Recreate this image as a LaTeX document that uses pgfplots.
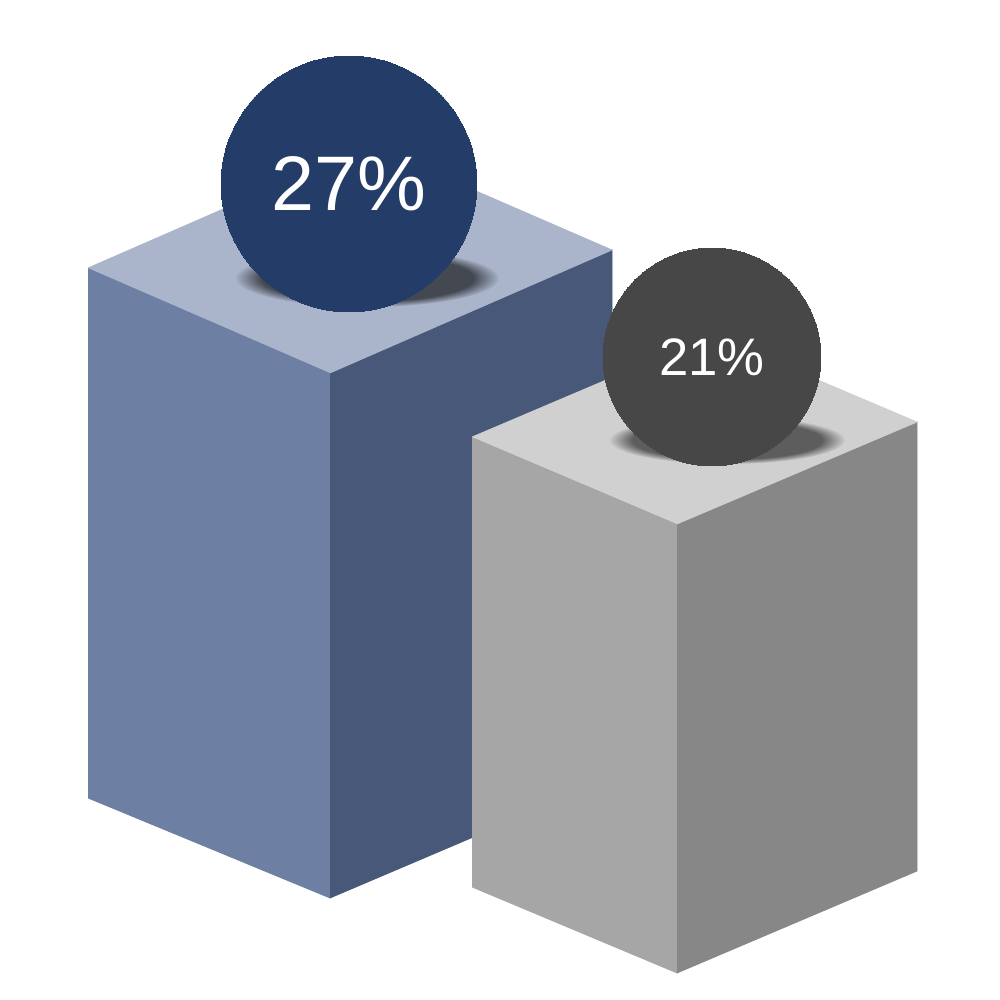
\documentclass[border=0pt]{standalone}
\usepackage{pgfplots}
\pgfplotsset{compat=1.18}
\usepackage{fontspec}
\setmainfont{Liberation Sans}
\usetikzlibrary{fadings}

\definecolor{blueFront}{HTML}{6D7FA3}
\definecolor{blueSide}{HTML}{485878}
\definecolor{blueTop}{HTML}{AAB5CB}
\definecolor{blueBall}{HTML}{233D68}
\definecolor{grayFront}{HTML}{A6A6A6}
\definecolor{graySide}{HTML}{878787}
\definecolor{grayTop}{HTML}{D0D0D0}
\definecolor{grayBall}{HTML}{474747}

\pgfplotsset{
	face/.style={fill=#1, draw=#1, line width=0.2pt},
	ball/.style 2 args={only marks, mark=*, mark size=#1, color=#2,
		mark options={fill=#2, draw=#2, line width=0pt},
		point meta=explicit symbolic, nodes near coords,
		every node near coord/.append style={anchor=center, text=white}},
}

\begin{document}
\begin{tikzpicture}
\begin{axis}[
	width=10cm, height=10cm, scale only axis,
	xmin=0, xmax=1000, ymin=0, ymax=1000, y dir=reverse,
	hide axis, clip=false,
]
\fill[white] (axis cs:0,0) rectangle (axis cs:1000,1000);

% blue box (27%)
\addplot[face=blueFront] coordinates {(88,268) (330,373) (330,898) (88,798)};
\addplot[face=blueSide]  coordinates {(330,373) (612,250) (612,778) (330,898)};
\addplot[face=blueTop]   coordinates {(88,268) (370,145) (612,250) (330,373)};
\fill[black, opacity=0.6, path fading=circle with fuzzy edge 20 percent]
	(axis cs:367,278) ellipse [x radius=132, y radius=29];
\addplot[ball={36.4pt}{blueBall},
	every node near coord/.append style={font=\fontsize{22}{22}\selectfont}]
	coordinates {(349,184) [27\%]};

% gray box (21%)
\addplot[face=grayFront] coordinates {(472,437) (677,524) (677,973) (472,887)};
\addplot[face=graySide]  coordinates {(677,524) (917,422) (917,871) (677,973)};
\addplot[face=grayTop]   coordinates {(472,437) (712,335) (917,422) (677,524)};
\fill[black, opacity=0.55, path fading=circle with fuzzy edge 20 percent]
	(axis cs:727,440) ellipse [x radius=118, y radius=24];
\addplot[ball={31pt}{grayBall},
	every node near coord/.append style={font=\fontsize{15}{15}\selectfont}]
	coordinates {(712,357) [21\%]};
\end{axis}
\end{tikzpicture}
\end{document}
